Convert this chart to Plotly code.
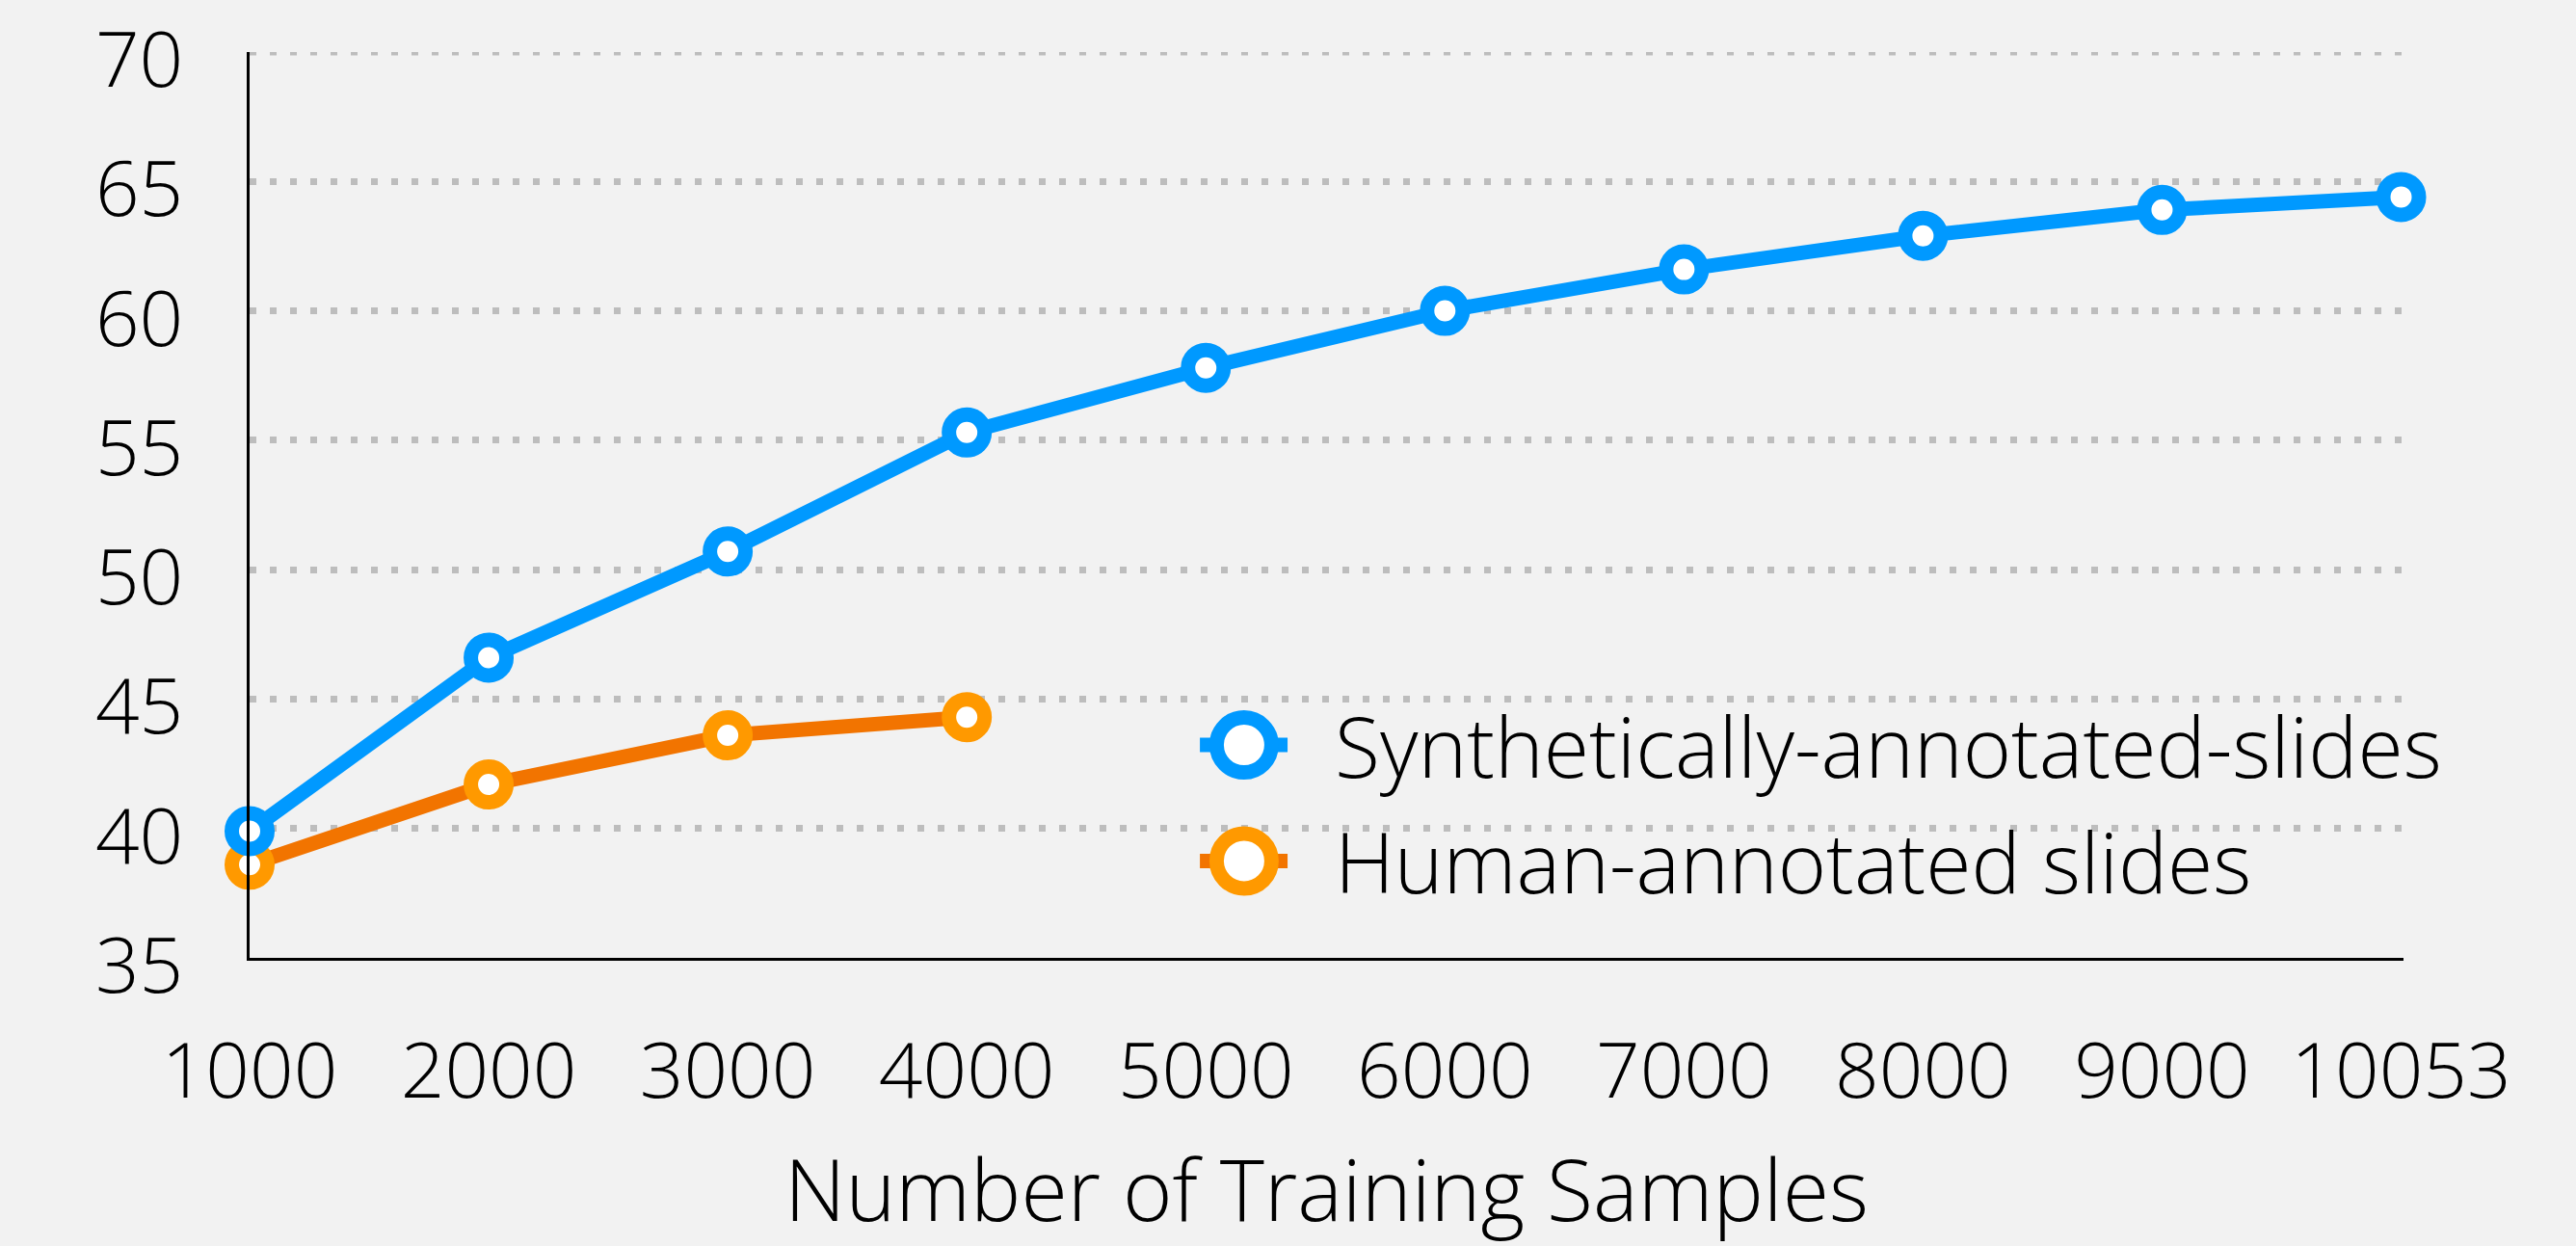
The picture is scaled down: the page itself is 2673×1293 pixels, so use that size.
import plotly.graph_objects as go

categories = ["1000", "2000", "3000", "4000", "5000", "6000", "7000", "8000", "9000", "10053"]
synthetic = [39.9, 46.6, 50.7, 55.3, 57.8, 60.0, 61.6, 62.9, 63.9, 64.4]
human_categories = ["1000", "2000", "3000", "4000"]
human = [38.6, 41.7, 43.6, 44.3]
y_ticks = [35, 40, 45, 50, 55, 60, 65, 70]
series_names = ["Synthetically-annotated-slides", "Human-annotated slides"]

FONT = "Open Sans"
BLUE = "#0099FF"
ORANGE_LINE = "#F27400"
ORANGE_MARK = "#FF9900"
GRID = "#BDBDBD"

fig = go.Figure()
fig.add_trace(go.Scatter(
    x=human_categories, y=human, name=series_names[1],
    mode="lines+markers", showlegend=False,
    line=dict(color=ORANGE_LINE, width=15),
    marker=dict(size=37, color="white", line=dict(color=ORANGE_MARK, width=15)),
    cliponaxis=False, hoverinfo="x+y+name",
))
fig.add_trace(go.Scatter(
    x=categories, y=synthetic, name=series_names[0],
    mode="lines+markers", showlegend=False,
    line=dict(color=BLUE, width=15),
    marker=dict(size=37, color="white", line=dict(color=BLUE, width=15)),
    cliponaxis=False, hoverinfo="x+y+name",
))

# Custom legend (large symbols) drawn on a hidden overlay axis in [0,1] space
legend_rows = [
    (series_names[0], BLUE, BLUE, 0.235),
    (series_names[1], ORANGE_LINE, ORANGE_MARK, 0.107),
]
sym_x0, sym_xc, sym_x1 = 0.4412, 0.4617, 0.4819
for name, lcol, mcol, yy in legend_rows:
    fig.add_trace(go.Scatter(
        x=[sym_x0, sym_x1], y=[yy, yy], xaxis="x2", yaxis="y2",
        mode="lines", line=dict(color=lcol, width=15),
        showlegend=False, hoverinfo="skip", cliponaxis=False,
    ))
    fig.add_trace(go.Scatter(
        x=[sym_xc], y=[yy], xaxis="x2", yaxis="y2",
        mode="markers",
        marker=dict(size=57, color="white", line=dict(color=mcol, width=15)),
        showlegend=False, hoverinfo="skip", cliponaxis=False,
    ))
    fig.add_annotation(
        x=0.503, y=yy, xref="paper", yref="paper",
        xanchor="left", yanchor="middle", showarrow=False,
        text=name, font=dict(family=FONT, size=86, color="black", weight=300),
    )

# top gridline (plotly omits the grid line sitting on the plot edge)
fig.add_shape(
    type="line", xref="paper", yref="y", x0=0, x1=1, y0=y_ticks[-1], y1=y_ticks[-1],
    line=dict(color=GRID, width=7, dash="7px,14px"), layer="below",
)

fig.update_layout(
    width=2673, height=1293,
    margin=dict(l=259, r=179, t=54, b=299, autoexpand=False),
    paper_bgcolor="#F2F2F2", plot_bgcolor="#F2F2F2",
    font=dict(family=FONT, color="black", size=80, weight=300),
    showlegend=False,
    xaxis2=dict(overlaying="x", range=[0, 1], visible=False, fixedrange=True),
    yaxis2=dict(overlaying="y", range=[0, 1], visible=False, fixedrange=True),
)
fig.layout.xaxis.update(
    type="category", categoryorder="array", categoryarray=categories,
    range=[0, 9.01], automargin=False,
    showline=True, linecolor="black", linewidth=2.5,
    showgrid=False, zeroline=False, ticks="",
    ticklabelstandoff=46,
    tickfont=dict(family=FONT, size=80, color="black", weight=300),
    title=dict(text="Number of Training Samples", standoff=62,
               font=dict(family=FONT, size=88, color="black", weight=300)),
)
fig.layout.yaxis.update(
    range=[35, 70], tickvals=y_ticks, automargin=False,
    showline=True, linecolor="black", linewidth=2.5,
    showgrid=True, gridcolor=GRID, gridwidth=7, griddash="7px,14px",
    zeroline=False, ticks="",
    ticklabelstandoff=50, ticklabelshift=8, ticklabeloverflow="allow",
    tickfont=dict(family=FONT, size=80, color="black", weight=300),
)

fig.write_html(
    "out.html",
    config={"displayModeBar": False},
    post_script="document.body.style.margin='0';document.body.style.background='#F2F2F2';",
)
